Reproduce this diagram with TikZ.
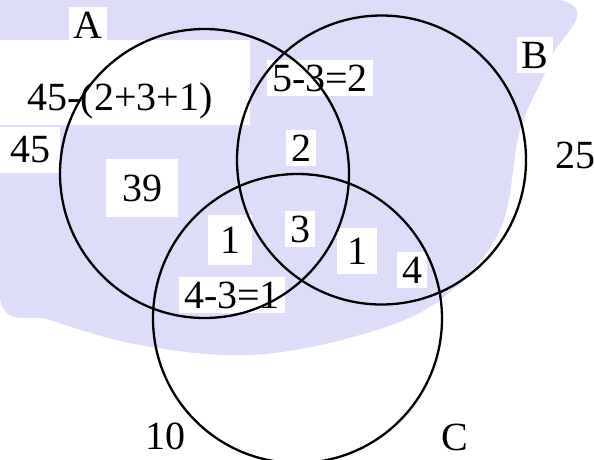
\documentclass[tikz,border=0pt]{standalone}
\usepackage{fontspec}
\newfontfamily\lbfont{Liberation Serif}
\definecolor{lav}{RGB}{221,221,250}
\begin{document}
\begin{tikzpicture}[x=1pt,y=-1pt,
  lbl/.style={fill=white,inner sep=5pt,font=\lbfont\fontsize{40}{40}\selectfont},
  setc/.style={draw=black,line width=2.3pt}]
\useasboundingbox (0,0) rectangle (594,459);
\fill[white] (0,0) rectangle (594,459);
% watermark tint
\fill[lav] plot[smooth cycle,tension=0.6] coordinates {
  (0,0) (300,0) (560,0) (550,60) (520,130) (500,230) (440,300)
  (360,335) (250,355) (140,345) (50,320) (0,300) (0,150)};
\fill[white] (0,40) rectangle (250,125);
% labels
\node[lbl] (tA) at (88,25) {A};
\node[lbl] (tB) at (535,55) {B};
\node[lbl] (tC) at (455,437) {C};
\node[lbl] (nA) at (120,101) {45-(2+3+1)};
\node[lbl] (nAB) at (320,78) {5-3=2};
\node[lbl,inner sep=10pt] (tot) at (30,150) {45};
\node[lbl] (ab) at (301,148) {2};
\node[lbl] (totB) at (575,155) {25};
\node[lbl,inner xsep=16pt,inner ysep=16pt] (a) at (142,188) {39};
\node[lbl,inner sep=12pt] (ac) at (230,240) {1};
\node[lbl] (abc) at (300,229) {3};
\node[lbl,inner sep=10pt] (bc) at (357,251) {1};
\node[lbl] (b) at (412,270) {4};
\node[lbl] (acc) at (232,295) {4-3=1};
\node[lbl] (none) at (165,436) {10};
% circles
\coordinate (cA) at (204.5,173.5);
\coordinate (cB) at (381.5,160);
\coordinate (cC) at (297.5,318.5);
\draw[setc] (cA) circle[radius=144.5];
\draw[setc] (cB) circle[radius=144.5];
\draw[setc] (cC) circle[radius=144.5];
\end{tikzpicture}
\end{document}
